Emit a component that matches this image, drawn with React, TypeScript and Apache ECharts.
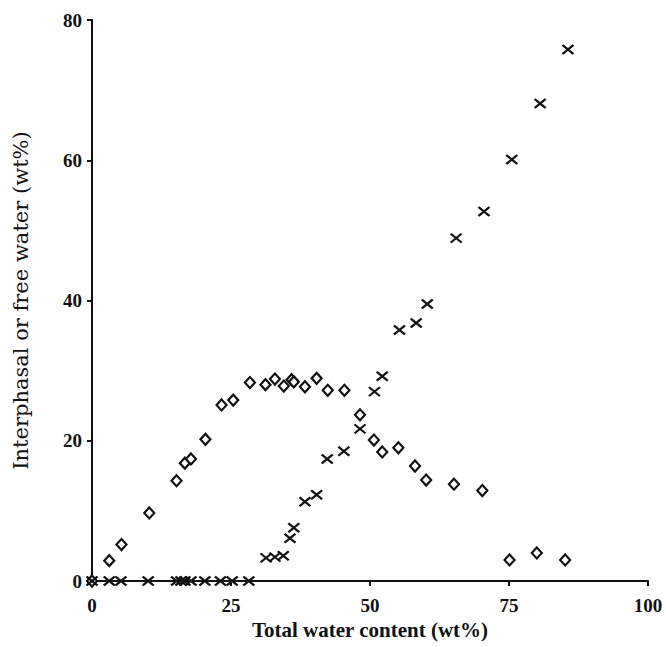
import React, { useEffect, useRef } from "react";
import * as echarts from "echarts";

const xTitle = "Total water content (wt%)";
const yTitle = "Interphasal or free water (wt%)";

// Interphasal water (diamonds): [total water, interphasal water]
const interphasalX = [0, 3.1, 5.3, 10.3, 15.2, 16.7, 17.8, 20.4, 23.3, 25.4, 28.4, 31.2, 32.9, 34.5, 35.9, 36.3, 38.3, 40.4, 42.4, 45.4, 48.2, 50.7, 52.2, 55.1, 58.1, 60.1, 65.1, 70.2, 75.1, 80.0, 85.1];
const interphasalY = [0, 2.9, 5.2, 9.7, 14.3, 16.8, 17.4, 20.2, 25.1, 25.8, 28.3, 28.0, 28.8, 27.8, 28.7, 28.4, 27.7, 28.9, 27.2, 27.2, 23.7, 20.1, 18.4, 19.0, 16.4, 14.4, 13.8, 12.9, 3.0, 4.0, 3.0];

// Free water (crosses): [total water, free water]
const freeX = [0, 3.1, 5.2, 10.1, 15.2, 16.0, 16.7, 17.8, 20.3, 23.1, 25.2, 28.2, 31.3, 32.9, 34.4, 35.6, 36.3, 38.3, 40.4, 42.3, 45.3, 48.2, 50.8, 52.2, 55.3, 58.3, 60.3, 65.5, 70.5, 75.5, 80.6, 85.6];
const freeY = [0, 0, 0, 0, 0, 0, 0, 0, 0, 0, 0, 0, 3.3, 3.4, 3.6, 6.1, 7.6, 11.3, 12.3, 17.4, 18.5, 21.7, 27.0, 29.2, 35.8, 36.8, 39.5, 48.9, 52.7, 60.1, 68.1, 75.8];

const xTicks = [0, 25, 50, 75, 100];
const yTicks = [0, 20, 40, 60, 80];

const FONT = "'Liberation Serif', 'DejaVu Serif', serif";

export default function App() {
  const ref = useRef<HTMLDivElement>(null);
  useEffect(() => {
    if (!ref.current) return;
    const chart = echarts.init(ref.current, undefined, { renderer: "svg" });
    const interphasal = interphasalX.map((x, i) => [x, interphasalY[i]]);
    const free = freeX.map((x, i) => [x, freeY[i]]);
    chart.setOption({
      animation: false,
      backgroundColor: "#ffffff",
      grid: { left: 92, top: 20, width: 556, height: 561 },
      xAxis: {
        type: "value",
        min: xTicks[0],
        max: xTicks[xTicks.length - 1],
        interval: 25,
        name: xTitle,
        nameLocation: "middle",
        nameGap: 36,
        nameTextStyle: { fontFamily: FONT, fontSize: 21, fontWeight: "bold", color: "#111" },
        axisLine: { show: true, lineStyle: { color: "#111", width: 2 } },
        axisTick: { show: true, inside: false, length: 5, lineStyle: { color: "#111", width: 2 } },
        axisLabel: { fontFamily: FONT, fontSize: 19, fontWeight: "bold", color: "#111", margin: 15 },
        splitLine: { show: false },
      },
      yAxis: {
        type: "value",
        min: yTicks[0],
        max: yTicks[yTicks.length - 1],
        interval: 20,
        name: yTitle,
        nameLocation: "middle",
        nameGap: 61,
        nameRotate: 90,
        nameTextStyle: { fontFamily: "'DejaVu Serif', serif", fontSize: 21, fontWeight: "normal", color: "#111" },
        axisLine: { show: true, lineStyle: { color: "#111", width: 2 } },
        axisTick: { show: true, inside: false, length: 5, lineStyle: { color: "#111", width: 2 } },
        axisLabel: { fontFamily: FONT, fontSize: 19, fontWeight: "bold", color: "#111", margin: 10 },
        splitLine: { show: false },
      },
      series: [
        {
          name: "Interphasal water",
          type: "scatter",
          data: interphasal,
          symbol: "diamond",
          symbolSize: [10, 11],
          itemStyle: { color: "#ffffff", borderColor: "#111", borderWidth: 2.2, opacity: 1 },
          z: 3,
        },
        {
          name: "Free water",
          type: "scatter",
          data: free,
          symbol: "path://M0,0L10,10M10,0L0,10",
          symbolSize: [11, 9],
          itemStyle: { color: "none", borderColor: "#111", borderWidth: 2.2, opacity: 1 },
          z: 4,
        },
      ],
    });
    return () => chart.dispose();
  }, []);
  return (
    <div
      ref={ref}
      style={{ position: "fixed", left: 0, top: 0, width: 666, height: 647, background: "#fff" }}
    />
  );
}
